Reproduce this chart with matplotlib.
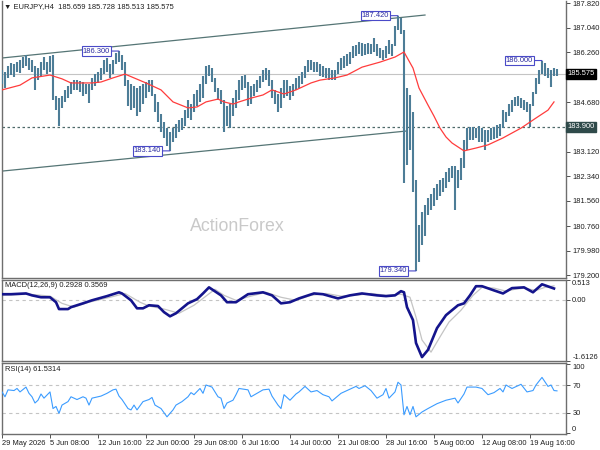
import matplotlib
matplotlib.use('Agg')
import matplotlib.pyplot as plt

plt.rcParams['font.family'] = ['Liberation Sans', 'DejaVu Sans']

# ---------------- data ----------------
title_text = "\u25BC EURJPY,H4  185.659 185.728 185.513 185.575"
macd_title = "MACD(12,26,9) 0.2928 0.3569"
rsi_title = "RSI(14) 61.5314"
watermark = "ActionForex"

x_labels = ["29 May 2026", "5 Jun 08:00", "12 Jun 16:00", "22 Jun 00:00", "29 Jun 08:00",
            "6 Jul 16:00", "14 Jul 00:00", "21 Jul 08:00", "28 Jul 16:00", "5 Aug 00:00",
            "12 Aug 08:00", "19 Aug 16:00"]
x_label_bars = [0, 16, 32, 48, 64, 80, 96, 112, 128, 144, 160, 176]

high = [185.70, 185.64, 185.83, 185.92, 185.89, 185.95, 186.02, 186.11, 186.17, 186.08,
        186.02, 185.83, 185.76, 185.95, 186.11, 185.95, 186.14, 186.17, 184.88, 184.81,
        184.88, 185.07, 185.19, 185.32, 185.38, 185.38, 185.35, 185.32, 185.26, 185.26,
        185.45, 185.57, 185.64, 185.76, 186.02, 186.08, 185.89, 186.02, 186.24, 186.30,
        186.17, 185.95, 185.38, 185.26, 185.19, 185.13, 185.19, 185.26, 185.32, 185.38,
        185.38, 184.94, 184.69, 184.31, 184.05, 183.86, 183.74, 183.86, 183.99, 184.12,
        184.18, 184.43, 184.75, 184.62, 184.94, 185.07, 185.26, 185.51, 185.83, 185.86,
        185.76, 185.45, 185.13, 185.07, 184.75, 184.56, 184.62, 184.81, 185.07, 185.38,
        185.51, 185.54, 185.32, 185.19, 185.26, 185.38, 185.51, 185.70, 185.76, 185.70,
        185.38, 185.07, 184.94, 185.13, 185.38, 185.38, 185.19, 185.26, 185.45, 185.51,
        185.64, 185.83, 186.02, 186.02, 185.95, 185.95, 185.89, 185.83, 185.76, 185.76,
        185.70, 185.70, 185.95, 186.08, 186.14, 186.21, 186.27, 186.46, 186.49, 186.59,
        186.55, 186.52, 186.55, 186.52, 186.71, 186.52, 186.40, 186.33, 186.46, 186.65,
        186.52, 187.09, 187.42, 187.35, 186.97, 185.13, 184.91, 184.37, 182.22, 180.79,
        181.21, 181.43, 181.65, 181.77, 181.96, 182.09, 182.22, 182.28, 182.47, 182.60,
        182.66, 182.66, 182.54, 182.91, 183.48, 183.86, 183.90, 183.90, 183.86, 183.93,
        183.86, 183.80, 183.80, 183.86, 183.90, 183.96, 183.99, 184.43, 184.37, 184.62,
        184.75, 184.85, 184.88, 184.81, 184.75, 184.69, 184.62, 185.00, 185.45, 185.70,
        186.00, 185.92, 185.76, 185.70, 185.76, 185.73]
low = [185.26, 185.13, 185.45, 185.54, 185.48, 185.64, 185.60, 185.76, 185.83, 185.70,
       185.64, 185.07, 185.38, 185.51, 185.70, 185.57, 185.64, 184.75, 184.43, 183.93,
       184.50, 184.69, 184.81, 184.94, 185.07, 185.07, 185.00, 184.88, 184.94, 184.66,
       185.07, 185.19, 185.29, 185.38, 185.57, 185.64, 185.45, 185.57, 185.89, 185.95,
       185.70, 185.19, 184.56, 184.43, 184.50, 184.24, 184.37, 184.62, 184.81, 185.00,
       184.88, 184.37, 184.05, 183.74, 183.55, 183.29, 183.14, 183.42, 183.55, 183.74,
       183.80, 183.93, 184.18, 184.12, 184.37, 184.56, 184.69, 184.81, 185.26, 185.51,
       185.32, 185.00, 184.75, 184.62, 183.74, 183.93, 183.86, 184.24, 184.50, 184.75,
       185.07, 185.13, 184.56, 184.62, 184.88, 185.00, 185.13, 185.32, 185.38, 185.19,
       184.81, 184.62, 184.37, 184.50, 184.81, 184.88, 184.75, 184.88, 185.07, 185.13,
       185.26, 185.45, 185.64, 185.70, 185.64, 185.64, 185.51, 185.48, 185.45, 185.38,
       185.38, 185.38, 185.57, 185.70, 185.76, 185.83, 185.89, 186.08, 186.14, 186.21,
       186.14, 186.17, 186.21, 186.21, 186.27, 186.14, 186.08, 186.02, 186.08, 186.21,
       186.14, 186.46, 186.97, 186.84, 182.12, 182.69, 183.17, 181.84, 179.34, 179.62,
       180.16, 180.45, 181.11, 181.27, 181.40, 181.58, 181.71, 181.84, 181.96, 182.15,
       182.28, 181.27, 181.96, 182.22, 182.60, 183.17, 183.48, 183.48, 183.55, 183.42,
       183.42, 183.17, 183.42, 183.48, 183.52, 183.55, 183.61, 183.86, 184.05, 184.24,
       184.37, 184.56, 184.56, 184.50, 184.43, 184.37, 183.90, 184.56, 184.94, 185.26,
       185.57, 185.51, 185.45, 185.16, 185.51, 185.51]
bar_idx = list(range(len(high)))

ma_x = [0, 6, 10, 16, 20, 23, 30, 33, 37, 41, 44, 48, 53, 57, 62, 65, 68, 72, 74, 77,
        79, 83, 87, 90, 94, 98, 103, 106, 111, 115, 120, 126, 131, 134, 137, 139, 142, 144, 146, 148,
        150, 154, 158, 162, 167, 173, 178, 182, 184]
ma_v = [185.07, 185.22, 185.45, 185.54, 185.42, 185.29, 185.29, 185.32, 185.45, 185.57,
        185.45, 185.29, 185.07, 184.69, 184.50, 184.53, 184.69, 184.78, 184.69, 184.62,
        184.69, 184.81, 184.91, 185.07, 184.94, 185.07, 185.29, 185.38, 185.45, 185.54,
        185.79, 185.95, 186.11, 186.27, 185.76, 185.13, 184.59, 184.24, 183.86, 183.58,
        183.39, 183.14, 183.23, 183.33, 183.55, 183.86, 184.18, 184.43, 184.69]

channel_upper_x = [0, 141]
channel_upper_y = [186.08, 187.44]
channel_lower_x = [0, 135]
channel_lower_y = [182.50, 183.77]
support_level = 183.90
last_price = 185.575

peaks = [(39, 186.30, "186.300"), (56, 183.14, "183.140"), (132, 187.42, "187.420"),
         (138, 179.34, "179.340"), (180, 186.00, "186.000")]

price_ticks = [187.82, 187.04, 186.26, 184.68, 183.12, 182.34, 181.56, 180.76, 179.98, 179.20]

macd_x = [0, 3, 8, 10, 13, 16, 18, 19, 22, 23, 27, 30, 35, 39, 40, 43, 45, 47, 49, 52,
          54, 56, 58, 62, 65, 67, 69, 73, 75, 78, 82, 87, 90, 93, 96, 99, 104, 107, 112, 116,
          120, 125, 128, 131, 133, 134, 135, 137, 138, 140, 142, 145, 148, 152, 154, 156, 158, 160, 164, 167,
          170, 174, 177, 180, 184]
macd_v = [0.14, 0.14, 0.16, 0.11, 0.06, 0.06, -0.07, -0.25, -0.25, -0.20,
          -0.10, -0.02, 0.09, 0.19, 0.16, -0.02, -0.23, -0.23, -0.15, -0.17,
          -0.33, -0.44, -0.36, -0.10, 0.01, 0.16, 0.32, 0.11, -0.07, -0.07,
          0.14, 0.19, 0.11, -0.10, -0.07, 0.03, 0.16, 0.14, 0.03, 0.11,
          0.16, 0.11, 0.09, 0.11, 0.22, 0.19, -0.20, -0.54, -1.14, -1.51,
          -1.32, -0.75, -0.41, -0.15, -0.10, 0.11, 0.35, 0.35, 0.24, 0.16,
          0.30, 0.32, 0.19, 0.40, 0.29]
sig_x = [0, 9, 16, 20, 24, 29, 36, 41, 46, 49, 54, 59, 64, 68, 71, 74, 78, 83, 88, 93,
         98, 103, 108, 113, 118, 123, 128, 133, 136, 138, 140, 143, 146, 149, 153, 157, 160, 164, 168, 171,
         174, 178, 181, 184]
sig_v = [0.11, 0.14, 0.09, -0.10, -0.20, -0.07, 0.06, 0.16, -0.07, -0.17,
         -0.25, -0.36, -0.15, 0.09, 0.27, 0.11, -0.02, 0.09, 0.19, 0.06,
         -0.02, 0.11, 0.16, 0.09, 0.11, 0.16, 0.11, 0.14, 0.06, -0.46,
         -1.06, -1.38, -0.98, -0.59, -0.28, 0.11, 0.32, 0.30, 0.22, 0.27,
         0.30, 0.24, 0.32, 0.36]
macd_ticks = [0.513, 0.0, -1.6126]
macd_tick_labels = ["0.513", "0.00", "-1.6126"]

rsi_x = [0, 1, 2, 4, 5, 6, 8, 9, 10, 11, 12, 13, 14, 16, 17, 18, 19, 20, 22, 23,
         25, 27, 28, 29, 30, 33, 35, 37, 38, 39, 40, 42, 43, 44, 45, 47, 49, 50, 51, 53,
         54, 55, 57, 58, 60, 62, 63, 64, 66, 67, 68, 70, 72, 73, 74, 75, 77, 78, 79, 82,
         83, 85, 87, 89, 90, 92, 93, 94, 96, 98, 99, 101, 103, 105, 107, 109, 110, 113, 115, 118,
         119, 121, 123, 125, 127, 128, 129, 131, 132, 133, 134, 135, 136, 137, 138, 140, 142, 145, 148, 151,
         152, 154, 155, 158, 160, 162, 164, 166, 167, 168, 170, 173, 175, 177, 178, 180, 182, 183, 184, 185]
rsi_v = [60, 53, 63, 62, 65, 60, 67, 58, 53, 44, 48, 57, 51, 60, 36, 39, 29, 41, 46, 53,
         49, 53, 51, 41, 51, 54, 58, 63, 64, 54, 49, 36, 34, 41, 34, 46, 49, 52, 41, 36,
         30, 24, 34, 41, 46, 53, 59, 56, 65, 58, 70, 67, 53, 51, 36, 44, 48, 56, 65, 63,
         53, 58, 63, 64, 54, 41, 36, 56, 48, 57, 60, 68, 60, 62, 56, 53, 47, 58, 62, 68,
         65, 69, 62, 51, 56, 65, 51, 60, 74, 70, 27, 39, 27, 39, 24, 31, 36, 43, 48, 51,
         44, 57, 67, 67, 65, 56, 59, 65, 60, 70, 65, 71, 60, 62, 70, 81, 68, 70, 62, 61.53]
rsi_levels = [70, 30]
rsi_ticks = [100, 70, 30, 0]

# ---------------- style ----------------
BAR_C = '#4d7d97'
MA_C = '#ff3c3c'
CH_C = '#557575'
SPINE_C = '#6e6e6e'
TXT_C = '#1e1e1e'
FS = 5.4

W, H = 600, 450
fig = plt.figure(figsize=(6, 4.5), dpi=100, facecolor='white')


def rect(x0, y0, x1, y1):
    return [x0 / W, 1 - y1 / H, (x1 - x0) / W, (y1 - y0) / H]


ax = fig.add_axes(rect(2, 0.5, 566, 278))
axm = fig.add_axes(rect(2, 280, 566, 361))
axr = fig.add_axes(rect(2, 363, 566, 434))

XMAX = 188
for a in (ax, axm, axr):
    a.set_xlim(0, XMAX)
    a.set_facecolor('white')
    for s in a.spines.values():
        s.set_color(SPINE_C)
        s.set_linewidth(1.0)
    a.yaxis.tick_right()
    a.tick_params(axis='y', direction='out', length=3, width=0.7, color='#505050',
                  labelsize=FS, labelcolor=TXT_C, pad=1.5)
    a.tick_params(axis='x', bottom=False, labelbottom=False)
ax.spines['top'].set_visible(False)

# ---- main price panel ----
ax.set_ylim(179.116, 187.90)
ax.axhline(last_price, color='#c4c4c4', lw=0.8, zorder=1)
ax.axhline(support_level, color='#4f6a6a', lw=0.9, ls=(0, (2, 2)), zorder=1)
ax.plot(channel_upper_x, channel_upper_y, color=CH_C, lw=0.9, zorder=2)
ax.plot(channel_lower_x, channel_lower_y, color=CH_C, lw=0.9, zorder=2)
ax.vlines(bar_idx, low, high, color=BAR_C, lw=1.5, zorder=3)
ax.plot(ma_x, ma_v, color=MA_C, lw=0.9, zorder=4)

for k, p, lab in peaks:
    ax.annotate(lab, xy=(k, p), xytext=(-9, 0), textcoords='offset pixels',
                ha='right', va='center', fontsize=FS, color='#2a2aa0',
                bbox=dict(boxstyle='square,pad=0.15', fc='white', ec='#4a4ac8', lw=0.8),
                arrowprops=dict(arrowstyle='-', color='#4a4ac8', lw=0.8, shrinkA=0, shrinkB=0),
                zorder=6)

ax.text(0.418, 0.184, watermark, transform=ax.transAxes, ha='center', va='center',
        fontsize=12.8, color='#c9c9c9', zorder=0)

ax.set_yticks(price_ticks)
ax.set_yticklabels([f"{v:.3f}" for v in price_ticks])
ytr = ax.get_yaxis_transform()
ax.text(1.002, last_price, f"{last_price:.3f}", transform=ytr, ha='left', va='center',
        fontsize=FS, color='white', clip_on=False, zorder=10,
        bbox=dict(boxstyle='square,pad=0.2', fc='black', ec='black'))
ax.text(1.002, support_level, f"{support_level:.3f}", transform=ytr, ha='left', va='center',
        fontsize=FS, color='white', clip_on=False, zorder=10,
        bbox=dict(boxstyle='square,pad=0.2', fc='#2f4a4a', ec='#2f4a4a'))

fig.text(4 / W, 1 - 7 / H, title_text, ha='left', va='center', fontsize=FS, color=TXT_C)

# ---- MACD panel ----
axm.set_ylim(-1.6126, 0.513)
axm.axhline(0, color='#c4c4c4', lw=0.8, ls=(0, (3, 3)), zorder=1)
axm.plot(sig_x, sig_v, color='#c4c4c4', lw=0.9, zorder=2)
axm.plot(macd_x, macd_v, color='#14148c', lw=1.9, zorder=3)
axm.set_yticks(macd_ticks)
axm.set_yticklabels(macd_tick_labels)
ml = axm.get_yticklabels()
ml[0].set_va('top')
ml[-1].set_va('bottom')
axm.text(0.005, 0.93, macd_title, transform=axm.transAxes, ha='left', va='center',
         fontsize=FS, color=TXT_C)

# ---- RSI panel ----
axr.set_ylim(-0.8, 101.8)
for lv in rsi_levels:
    axr.axhline(lv, color='#c4c4c4', lw=0.8, ls=(0, (3, 3)), zorder=1)
axr.plot(rsi_x, rsi_v, color='#3b9cff', lw=0.8, zorder=3)
axr.set_yticks(rsi_ticks)
axr.set_yticklabels([str(v) for v in rsi_ticks])
rl = axr.get_yticklabels()
rl[0].set_va('top')
rl[-1].set_va('bottom')
axr.text(0.005, 0.91, rsi_title, transform=axr.transAxes, ha='left', va='center',
         fontsize=FS, color=TXT_C)

axr.tick_params(axis='x', bottom=True, labelbottom=True, direction='out', length=3,
                width=0.7, color='#505050', labelsize=FS, labelcolor=TXT_C, pad=1.5)
axr.set_xticks(x_label_bars)
axr.set_xticklabels(x_labels, ha='left')

fig.savefig('out.png', dpi=100, facecolor='white')
